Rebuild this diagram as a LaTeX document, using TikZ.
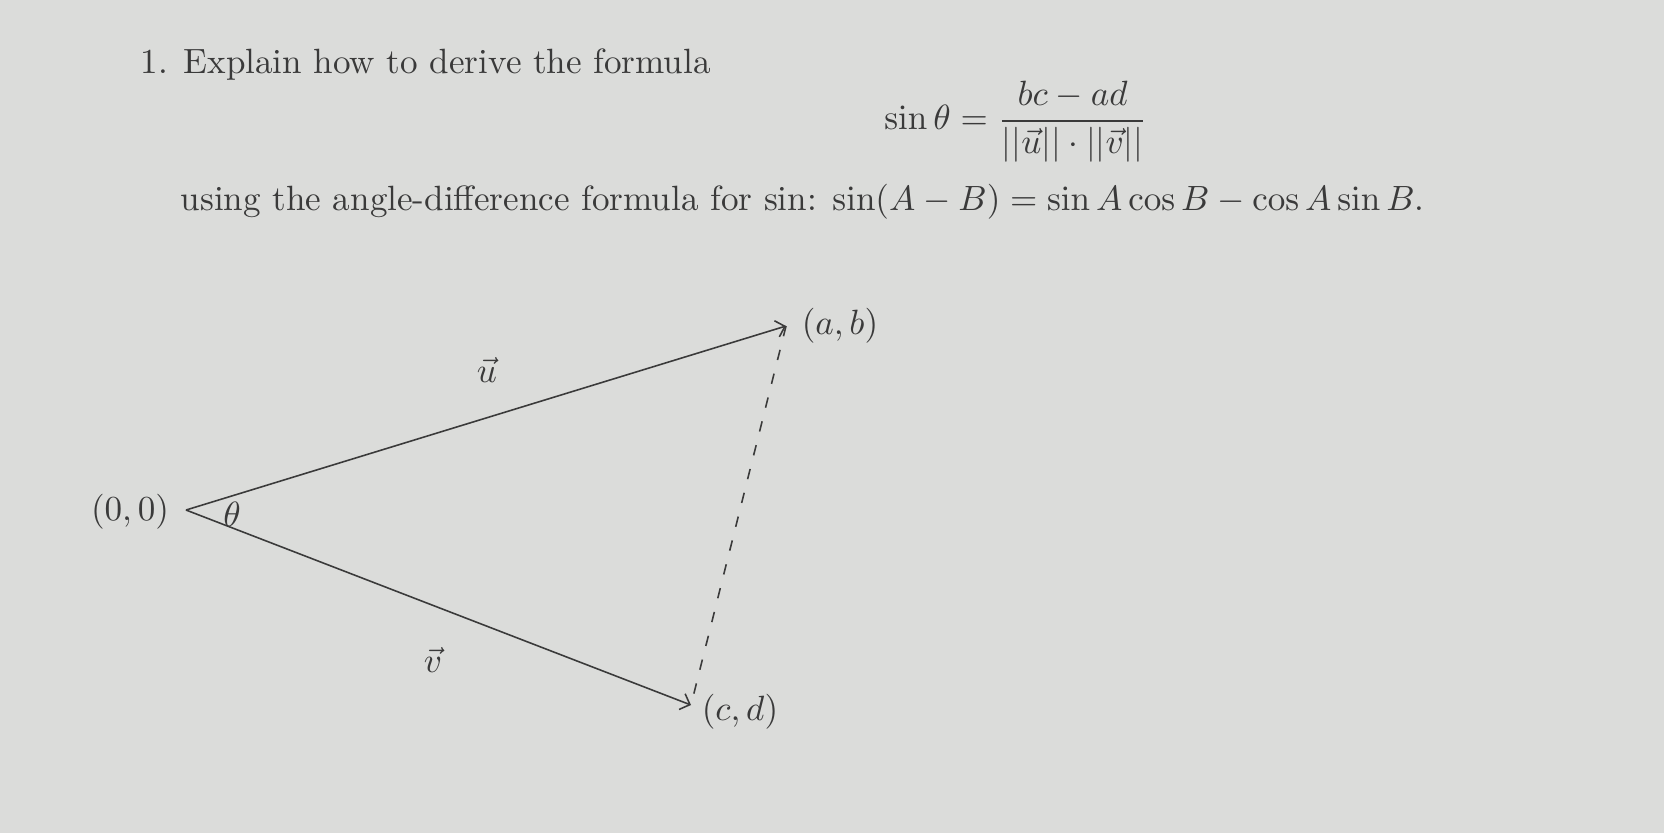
\documentclass[tikz,border=0pt]{standalone}
\usepackage{amsmath,amssymb}
\usepackage{tikz}
\usetikzlibrary{
	positioning,
	arrows.meta
}
\definecolor{paper}{RGB}{219,220,218}
\definecolor{ink}{RGB}{58,58,58}
\tikzset{
	vec/.style={
		draw=ink,
		line width=0.45pt,
		-Straight Barb
	},
	gap/.style={
		draw=ink,
		line width=0.45pt,
		dash pattern=on 3pt off 4pt
	},
	txt/.style={
		anchor=base west,
		inner sep=0pt,
		text=ink
	}
}

\begin{document}
\begin{tikzpicture}[x=0.285pt,y=-0.285pt]
	\useasboundingbox (0,0) rectangle (1664,832);
	\fill[paper] (-4,-4) rectangle (1668,836);

	% task text
	\node[txt] (num)  at (140,73) {1.};
	\node[txt] (task) at (183,73) {Explain how to derive the formula};
	\node[text=ink] (sine) at (1016,122)
		{$\displaystyle \sin\theta = \frac{bc-ad}{||\vec{u}||\cdot||\vec{v}||}$};
	\node[txt] (hint) at (180,210)
		{using the angle-difference formula for sin: $\sin(A-B)=\sin A\cos B-\cos A\sin B$.};

	% triangle
	\coordinate (O) at (186,510);
	\coordinate (P) at (786,326);
	\coordinate (Q) at (691,705);
	\draw[vec] (O) -- (P);
	\draw[vec] (O) -- (Q);
	\draw[gap] (P) -- (Q);

	\node[text=ink] (origin) at (130,512) {$(0,0)$};
	\node[text=ink] (ab)     at (840,326) {$(a,b)$};
	\node[text=ink] (cd)     at (740,712) {$(c,d)$};
	\node[text=ink] (theta)  at (232,514) {$\theta$};
	\node[text=ink] (u)      at (487,370) {$\vec{u}$};
	\node[text=ink] (v)      at (433,660) {$\vec{v}$};
\end{tikzpicture}
\end{document}
